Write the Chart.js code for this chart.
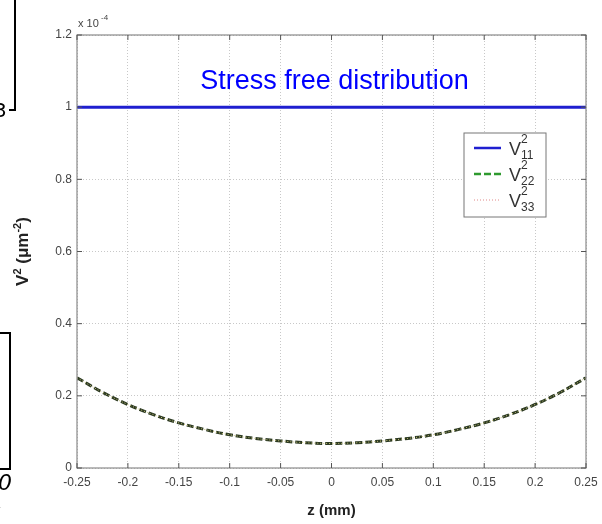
<!DOCTYPE html>
<html lang="en">
<head>
  <meta charset="UTF-8">
  <title>Stress free distribution</title>
  <script src="https://cdn.jsdelivr.net/npm/chart.js"></script>
  <style>
    html, body { margin: 0; padding: 0; background: #fff; }
    #wrap { position: relative; width: 602px; height: 524px; }
    canvas { display: block; }
    .edge { position: absolute; background: #000; }
    .frag { position: absolute; font-family: "DejaVu Sans", sans-serif; font-style: italic; font-size: 22px; color: #000; }
  </style>
</head>
<body>
  <div id="wrap">
    <canvas id="vChart" width="602" height="524"></canvas>
    <!-- bits of the neighbouring figure cut off on the left -->
    <div class="edge" style="left:14px;top:0;width:2px;height:111px"></div>
    <div class="edge" style="left:9px;top:109px;width:7px;height:2px"></div>
    <div class="frag" style="left:-6px;top:98px;font-style:normal;font-size:20px">3</div>
    <div class="edge" style="left:0;top:332px;width:11px;height:2px"></div>
    <div class="edge" style="left:9px;top:332px;width:2px;height:138px"></div>
    <div class="edge" style="left:0;top:468px;width:11px;height:2px"></div>
    <div class="frag" style="left:-2px;top:470px">0</div>
    <div class="frag" style="left:-4px;top:490px">,</div>
  </div>

  <script>
    // z positions (mm)
    const zValues = [-0.25, -0.225, -0.2, -0.175, -0.15, -0.125, -0.1, -0.075, -0.05, -0.025, 0,
                     0.025, 0.05, 0.075, 0.1, 0.125, 0.15, 0.175, 0.2, 0.225, 0.25];
    // V^2 values, in units of 1e-4 um^-2
    const v11 = [1, 1, 1, 1, 1, 1, 1, 1, 1, 1, 1, 1, 1, 1, 1, 1, 1, 1, 1, 1, 1];
    const v22 = [0.25, 0.21, 0.176, 0.148, 0.125, 0.107, 0.092, 0.082, 0.075, 0.070, 0.068,
                 0.070, 0.075, 0.082, 0.092, 0.107, 0.125, 0.148, 0.176, 0.21, 0.25];
    const v33 = [0.25, 0.21, 0.176, 0.148, 0.125, 0.107, 0.092, 0.082, 0.075, 0.070, 0.068,
                 0.070, 0.075, 0.082, 0.092, 0.107, 0.125, 0.148, 0.176, 0.21, 0.25];
    const xTicks = [-0.25, -0.2, -0.15, -0.1, -0.05, 0, 0.05, 0.1, 0.15, 0.2, 0.25];
    const yTicks = [0, 0.2, 0.4, 0.6, 0.8, 1, 1.2];
    const seriesNames = ['11', '22', '33'];

    const FONT = 'Arial, "Liberation Sans", sans-serif';

    function pts(ys) {
      return zValues.map((z, i) => ({ x: z, y: ys[i] }));
    }

    // frame, inward ticks, exponent, y title, annotation and legend, matlab style
    const matlabBits = {
      id: 'matlabBits',
      afterDraw(chart) {
        const ctx = chart.ctx;
        const a = chart.chartArea;
        const xs = chart.scales.x, ys = chart.scales.y;
        ctx.save();
        ctx.strokeStyle = '#8a8a8a';
        ctx.lineWidth = 1.2;
        ctx.strokeRect(a.left, a.top, a.right - a.left, a.bottom - a.top);
        ctx.strokeStyle = '#555';
        ctx.lineWidth = 1;
        ctx.beginPath();
        xTicks.forEach(t => {
          const px = xs.getPixelForValue(t);
          ctx.moveTo(px, a.bottom); ctx.lineTo(px, a.bottom - 5);
          ctx.moveTo(px, a.top); ctx.lineTo(px, a.top + 5);
        });
        yTicks.forEach(t => {
          const py = ys.getPixelForValue(t);
          ctx.moveTo(a.left, py); ctx.lineTo(a.left + 5, py);
          ctx.moveTo(a.right, py); ctx.lineTo(a.right - 5, py);
        });
        ctx.stroke();

        // exponent
        ctx.fillStyle = '#444';
        ctx.font = '11px ' + FONT;
        ctx.textBaseline = 'alphabetic';
        ctx.textAlign = 'left';
        ctx.fillText('x 10', a.left + 1, a.top - 8);
        ctx.font = '8px ' + FONT;
        ctx.fillText('-4', a.left + 24, a.top - 15);

        // y title, rotated, with real superscripts
        ctx.save();
        ctx.translate(28, (a.top + a.bottom) / 2);
        ctx.rotate(-Math.PI / 2);
        ctx.fillStyle = '#222';
        const parts = [['V', 0, 17], ['2', -7, 11], [' (μm', 0, 17], ['-2', -7, 11], [')', 0, 17]];
        let w = 0;
        parts.forEach(p => { ctx.font = 'bold ' + p[2] + 'px ' + FONT; w += ctx.measureText(p[0]).width; });
        let x0 = -w / 2;
        ctx.textAlign = 'left';
        parts.forEach(p => {
          ctx.font = 'bold ' + p[2] + 'px ' + FONT;
          ctx.fillText(p[0], x0, p[1]);
          x0 += ctx.measureText(p[0]).width;
        });
        ctx.restore();

        // annotation
        ctx.fillStyle = '#0000ff';
        ctx.font = '27px ' + FONT;
        ctx.textAlign = 'center';
        ctx.textBaseline = 'middle';
        ctx.fillText('Stress free distribution', xs.getPixelForValue(0.003), ys.getPixelForValue(1.072));

        // legend box
        const bx = a.right - 122, by = a.top + 98, bw = 82, bh = 84;
        ctx.fillStyle = '#fff';
        ctx.fillRect(bx, by, bw, bh);
        ctx.strokeStyle = '#777';
        ctx.lineWidth = 1;
        ctx.strokeRect(bx, by, bw, bh);
        chart.data.datasets.forEach((ds, i) => {
          const ry = by + 15 + i * 26;
          ctx.strokeStyle = ds.legendColor;
          ctx.lineWidth = ds.legendWidth;
          ctx.setLineDash(ds.borderDash || []);
          ctx.beginPath();
          ctx.moveTo(bx + 10, ry); ctx.lineTo(bx + 37, ry);
          ctx.stroke();
          ctx.setLineDash([]);
          ctx.fillStyle = '#333';
          ctx.textAlign = 'left';
          ctx.textBaseline = 'middle';
          ctx.font = '18px ' + FONT;
          ctx.fillText('V', bx + 45, ry + 2);
          ctx.font = '12px ' + FONT;
          ctx.fillText('2', bx + 57, ry - 8);
          ctx.fillText(seriesNames[i], bx + 57, ry + 8);
        });
        ctx.restore();
      }
    };

    const ctx = document.getElementById('vChart').getContext('2d');
    new Chart(ctx, {
      type: 'line',
      data: {
        datasets: [
          { label: 'V11', data: pts(v11), borderColor: '#1f1fd0', legendColor: '#1f1fd0', legendWidth: 2.5,
            borderWidth: 3, pointRadius: 0, order: 3 },
          { label: 'V22', data: pts(v22), borderColor: '#2c3a22', legendColor: '#2e9a2e', legendWidth: 2.5,
            borderWidth: 3, borderDash: [7, 3], pointRadius: 0, tension: 0.4, order: 2 },
          { label: 'V33', data: pts(v33), borderColor: '#c9c27a', legendColor: '#e08888', legendWidth: 1,
            borderWidth: 1, borderDash: [1, 2], pointRadius: 0, tension: 0.4, order: 1 }
        ]
      },
      options: {
        responsive: false,
        animation: false,
        layout: { padding: { top: 35, right: 16, left: 0, bottom: 0 } },
        plugins: { legend: { display: false }, tooltip: { enabled: false } },
        scales: {
          x: {
            type: 'linear', min: -0.25, max: 0.25,
            afterBuildTicks: s => { s.ticks = xTicks.map(v => ({ value: v })); },
            afterFit: s => { s.height = 56; s.paddingLeft = 0; s.paddingRight = 0; },
            grid: { color: '#c8c8c8', drawTicks: false, lineWidth: 1 },
            border: { display: false, dash: [1, 2] },
            ticks: { padding: 7, color: '#444', font: { family: FONT, size: 12 },
                     maxRotation: 0, callback: v => String(+v.toFixed(2)) },
            title: { display: true, text: 'z (mm)', color: '#222', padding: { top: 8 },
                     font: { family: FONT, size: 15, weight: 'bold' } }
          },
          y: {
            type: 'linear', min: 0, max: 1.2,
            afterBuildTicks: s => { s.ticks = yTicks.map(v => ({ value: v })); },
            afterFit: s => { s.width = 77; s.paddingTop = 0; s.paddingBottom = 0; },
            grid: { color: '#c8c8c8', drawTicks: false, lineWidth: 1 },
            border: { display: false, dash: [1, 2] },
            ticks: { padding: 5, color: '#444', font: { family: FONT, size: 12 },
                     callback: v => String(+v.toFixed(1)) },
            title: { display: false }
          }
        }
      },
      plugins: [matlabBits]
    });
  </script>
</body>
</html>
